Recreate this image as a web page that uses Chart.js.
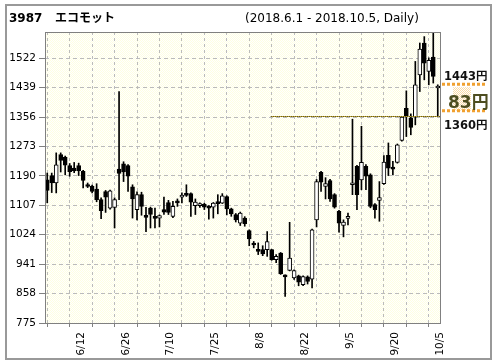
<!DOCTYPE html>
<html>
<head>
<meta charset="utf-8">
<script src="https://cdn.jsdelivr.net/npm/chart.js@4.4.1/dist/chart.umd.min.js"></script>
<style>
  html, body { margin: 0; padding: 0; background: #fff; }
  canvas { display: block; }
</style>
</head>
<body>
<canvas id="kabuChart" width="496" height="364"></canvas>
<script>
// trading days 2018.6.1 - 2018.10.5
const dates = [
  '6/1','6/4','6/5','6/6','6/7','6/8','6/11','6/12','6/13','6/14','6/15','6/18','6/19','6/20','6/21','6/22',
  '6/25','6/26','6/27','6/28','6/29',
  '7/2','7/3','7/4','7/5','7/6','7/9','7/10','7/11','7/12','7/13','7/17','7/18','7/19','7/20',
  '7/23','7/24','7/25','7/26','7/27','7/30','7/31',
  '8/1','8/2','8/3','8/6','8/7','8/8','8/9','8/10','8/13','8/14','8/15','8/16','8/17',
  '8/20','8/21','8/22','8/23','8/24','8/27','8/28','8/29','8/30','8/31',
  '9/3','9/4','9/5','9/6','9/7','9/10','9/11','9/12','9/13','9/14','9/18','9/19','9/20','9/21',
  '9/25','9/26','9/27','9/28',
  '10/1','10/2','10/3','10/4','10/5'
];
const open = [
  1179,1191,1170,1250,1243,1219,1212,1219,1203,1162,
  1161,1153,1123,1146,1099,1101,1209,1224,1219,1159,
  1095,1137,1079,1099,1072,1071,1095,1115,1076,1118,
  1130,1139,1140,1106,1106,1110,1104,1102,1113,1113,
  1132,1097,1081,1057,1071,1036,997,982,982,982,
  982,954,972,907,923,902,908,883,905,899,
  1066,1200,1160,1177,1137,1090,1050,1070,1165,1217,
  1179,1217,1193,1109,1121,1168,1248,1214,1228,1290,
  1381,1353,1356,1475,1565,1485,1525,1438
];
const high = [
  1198,1198,1255,1255,1246,1225,1228,1226,1206,1170,
  1164,1168,1128,1149,1150,1128,1428,1230,1222,1165,
  1145,1144,1101,1102,1099,1080,1130,1121,1118,1125,
  1142,1165,1142,1125,1114,1113,1106,1115,1137,1140,
  1134,1099,1084,1088,1075,1038,1005,1001,993,1033,
  983,968,974,911,1059,925,910,908,908,1040,
  1180,1203,1185,1180,1140,1093,1066,1085,1350,1220,
  1330,1222,1196,1112,1174,1247,1283,1231,1280,1358,
  1430,1365,1513,1565,1583,1523,1596,1447
];
const low = [
  1114,1143,1142,1201,1193,1189,1199,1191,1156,1157,
  1142,1117,1069,1087,1096,1043,1123,1174,1146,1071,
  1066,1079,1033,1043,1043,1046,1081,1081,1072,1104,
  1114,1132,1076,1081,1101,1095,1068,1071,1083,1112,
  1080,1076,1060,1050,1048,993,987,968,965,963,
  952,945,912,850,922,898,880,880,885,874,
  1046,1146,1125,1118,1099,1031,1018,1052,1137,1095,
  1151,1151,1100,1071,1062,1166,1191,1193,1226,1288,
  1301,1306,1334,1428,1461,1447,1452,1360
];
const close = [
  1149,1170,1221,1234,1220,1202,1204,1205,1177,1160,
  1146,1123,1092,1130,1148,1123,1197,1201,1189,1125,
  1137,1104,1073,1081,1070,1078,1088,1087,1104,1114,
  1134,1135,1116,1116,1111,1102,1099,1113,1112,1134,
  1097,1083,1066,1085,1055,1012,995,977,970,1005,
  954,963,914,905,958,923,890,906,892,1038,
  1174,1172,1168,1125,1102,1057,1060,1071,1166,1137,
  1228,1189,1104,1095,1129,1229,1212,1209,1278,1356,
  1360,1327,1447,1548,1508,1516,1471,1443
];
const tickLabels = ['6/12','6/26','7/10','7/25','8/8','8/22','9/5','9/20','10/5'];
const yTicks = [775, 858, 941, 1024, 1107, 1190, 1273, 1356, 1439, 1522];
const refLow = 1360;
const lastClose = close[close.length - 1];
const refStart = 49.8; // dotted line starts around 8/13

const labelIdx = tickLabels.map(l => dates.indexOf(l));
const tickPos = labelIdx.flatMap(i => [i - 4.5, i + 0.5]);

const FONT = '"DejaVu Sans", "Noto Sans CJK JP", sans-serif';

// small dither pattern like the original background
function makePattern(ctx, c1, c2) {
  const p = document.createElement('canvas');
  p.width = 2; p.height = 2;
  const g = p.getContext('2d');
  g.fillStyle = c2; g.fillRect(0, 0, 2, 2);
  g.fillStyle = c1; g.fillRect(0, 0, 1, 1); g.fillRect(1, 1, 1, 1);
  return ctx.createPattern(p, 'repeat');
}

function hline(ctx, x1, x2, yy) {
  ctx.beginPath(); ctx.moveTo(x1, yy); ctx.lineTo(x2, yy); ctx.stroke();
}

const decor = {
  id: 'decor',
  beforeDraw(chart) {
    const { ctx, chartArea: a } = chart;
    ctx.save();
    ctx.fillStyle = '#fff';
    ctx.fillRect(0, 0, chart.width, chart.height);
    ctx.fillStyle = makePattern(ctx, '#fefee2', '#ffffff');
    ctx.fillRect(a.left, a.top, a.right - a.left, a.bottom - a.top);
    ctx.strokeStyle = '#999';
    ctx.lineWidth = 2;
    ctx.strokeRect(6, 5, 485, 354);
    ctx.restore();
  },
  afterDatasetsDraw(chart) {
    const { ctx, chartArea: a, scales: { x, y } } = chart;
    ctx.save();
    // 1360 dotted line
    const yl = Math.round(y.getPixelForValue(refLow)) + 0.5;
    const xs = x.getPixelForValue(refStart);
    ctx.lineWidth = 1;
    ctx.strokeStyle = '#f0cc20';
    hline(ctx, xs, a.right, yl);
    ctx.setLineDash([1, 1]);
    ctx.strokeStyle = '#333';
    hline(ctx, xs, a.right, yl);
    ctx.setLineDash([]);

    // plot frame
    ctx.lineWidth = 1;
    ctx.strokeStyle = '#808080';
    ctx.strokeRect(a.left + 0.5, a.top + 0.5, a.right - a.left, a.bottom - a.top);

    // right side: last close vs 1360
    const yHi = y.getPixelForValue(lastClose);
    const yLo = y.getPixelForValue(refLow);
    ctx.fillStyle = makePattern(ctx, 'rgba(245,175,60,0.45)', 'rgba(255,255,255,0)');
    ctx.fillRect(453, yHi + 1, 18, yLo - yHi - 6);
    ctx.strokeStyle = '#f0a030';
    ctx.lineWidth = 3;
    ctx.setLineDash([3, 2]);
    hline(ctx, 442, 487, yHi - 2);
    hline(ctx, 442, 487, yLo - 5);
    ctx.setLineDash([]);

    ctx.fillStyle = '#111';
    ctx.textAlign = 'left';
    ctx.textBaseline = 'alphabetic';
    ctx.font = 'bold 11.5px ' + FONT;
    ctx.fillText(lastClose + '円', 444, yHi - 6.5);
    ctx.fillText(refLow + '円', 444, yLo + 13.5);
    ctx.font = 'bold 17px ' + FONT;
    ctx.fillStyle = '#4d4d20';
    ctx.fillText((lastClose - refLow) + '円', 448, (yHi + yLo) / 2 + 7);

    // titles
    ctx.fillStyle = '#000';
    ctx.font = 'bold 12px ' + FONT;
    ctx.fillText('3987', 9, 21.5);
    ctx.fillText('エコモット', 55, 21.5);
    ctx.font = '12px ' + FONT;
    ctx.fillText('(2018.6.1 - 2018.10.5, Daily)', 245, 22);
    ctx.restore();
  }
};

new Chart(document.getElementById('kabuChart'), {
  type: 'bar',
  data: {
    datasets: [
      {
        // candle bodies
        data: dates.map((d, i) => ({ x: i, y: [open[i], close[i]] })),
        backgroundColor: ctx => close[ctx.dataIndex] >= open[ctx.dataIndex] ? '#ffffff' : '#000000',
        borderColor: '#000',
        borderWidth: 1,
        borderSkipped: false,
        barThickness: 4,
        minBarLength: 2,
        grouped: false
      },
      {
        // wicks
        data: dates.map((d, i) => ({ x: i, y: [low[i], high[i]] })),
        backgroundColor: '#000',
        borderWidth: 0,
        barThickness: 1,
        grouped: false
      }
    ]
  },
  options: {
    responsive: false,
    animation: false,
    events: [],
    layout: { padding: { left: 0, top: 32, right: 56, bottom: 0 } },
    plugins: {
      legend: { display: false },
      tooltip: { enabled: false }
    },
    scales: {
      x: {
        type: 'linear',
        min: -0.5,
        max: 87.5,
        offset: false,
        afterBuildTicks: s => { s.ticks = tickPos.map(v => ({ value: v })); },
        afterFit: s => { s.height = 41; },
        border: { display: false, dash: [3, 3] },
        grid: {
          color: '#bbbbbb',
          tickColor: '#808080',
          tickLength: 4,
          tickBorderDash: [1, 0]
        },
        ticks: {
          autoSkip: false,
          minRotation: 90,
          maxRotation: 90,
          padding: 5,
          color: '#000',
          font: { size: 10.5, family: FONT },
          callback: v => {
            const i = labelIdx.indexOf(Math.round(v - 0.5));
            return i >= 0 ? tickLabels[i] : '';
          }
        }
      },
      y: {
        type: 'linear',
        min: 775,
        max: 1596,
        afterBuildTicks: s => { s.ticks = yTicks.map(v => ({ value: v })); },
        afterFit: s => { s.width = 45; },
        border: { display: false, dash: [4, 3] },
        grid: {
          color: '#bbbbbb',
          tickColor: '#808080',
          tickLength: 6,
          tickBorderDash: [1, 0]
        },
        ticks: {
          padding: 3,
          color: '#000',
          font: { size: 10.5, family: FONT },
          callback: v => String(v)
        }
      }
    }
  },
  plugins: [decor]
});
</script>
</body>
</html>
